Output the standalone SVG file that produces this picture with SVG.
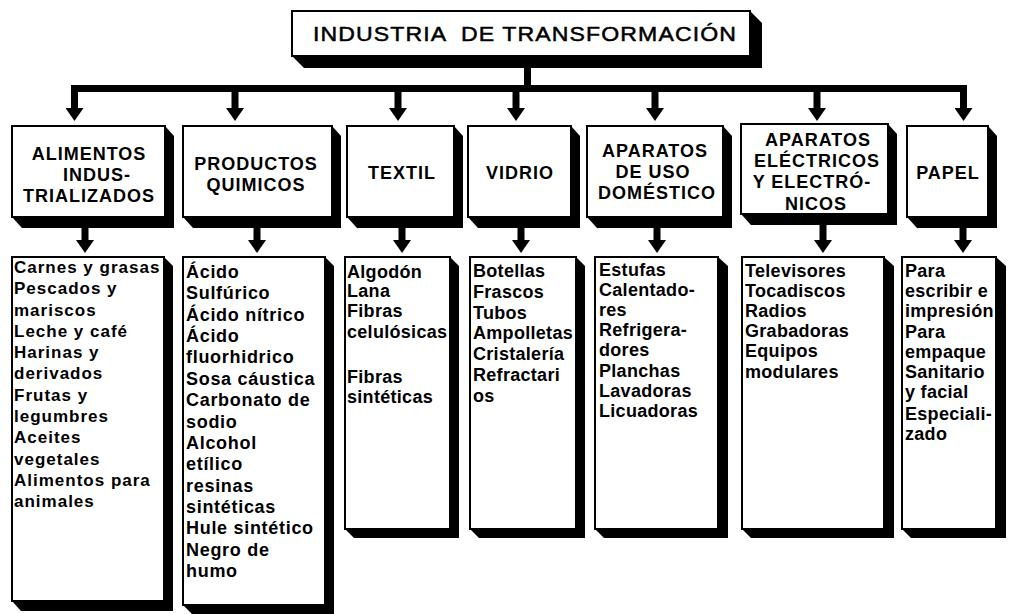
<svg xmlns="http://www.w3.org/2000/svg" width="1011" height="614" viewBox="0 0 1011 614">
<style>
.box{fill:#fff;stroke:#000;stroke-width:2}
.sh{fill:#000}
.title{font-family:"Liberation Sans",Arial,sans-serif;font-size:21px;letter-spacing:1px;fill:#000;stroke:#000;stroke-width:0.5}
.hd{font-family:"Liberation Sans",Arial,sans-serif;font-size:18px;font-weight:bold;letter-spacing:1px;fill:#000;text-anchor:middle}
.li{font-family:"Liberation Sans",Arial,sans-serif;font-size:18px;font-weight:bold;letter-spacing:0.3px;fill:#000}
.li2{font-family:"Liberation Sans",Arial,sans-serif;font-size:18px;font-weight:bold;letter-spacing:0.7px;fill:#000}
.li1{font-family:"Liberation Sans",Arial,sans-serif;font-size:17px;font-weight:bold;letter-spacing:1px;fill:#000}
.cn{stroke:#000;stroke-width:7;fill:none;marker-end:url(#ah)}
</style>
<defs>
<marker id="ah" markerWidth="13" markerHeight="18" refX="0" refY="9" orient="auto" markerUnits="userSpaceOnUse">
<path d="M0,0 L13,9 L0,18 Z" fill="#000"/>
</marker>
</defs>
<rect width="1011" height="614" fill="#fff"/>

<g id="connectors">
<rect x="524" y="64" width="7" height="24" fill="#000"/>
<rect x="71" y="85" width="896" height="7" fill="#000"/>
<line class="cn" x1="74.5" y1="88" x2="74.5" y2="108"/>
<line class="cn" x1="235" y1="88" x2="235" y2="108"/>
<line class="cn" x1="398" y1="88" x2="398" y2="108"/>
<line class="cn" x1="516" y1="88" x2="516" y2="108"/>
<line class="cn" x1="655" y1="88" x2="655" y2="108"/>
<line class="cn" x1="817" y1="88" x2="817" y2="108"/>
<line class="cn" x1="963.5" y1="88" x2="963.5" y2="108"/>
<line class="cn" x1="85" y1="225" x2="85" y2="240"/>
<line class="cn" x1="257" y1="225" x2="257" y2="240"/>
<line class="cn" x1="402" y1="225" x2="402" y2="240"/>
<line class="cn" x1="521" y1="225" x2="521" y2="240"/>
<line class="cn" x1="657" y1="225" x2="657" y2="240"/>
<line class="cn" x1="823" y1="222" x2="823" y2="240"/>
<line class="cn" x1="963" y1="225" x2="963" y2="240"/>
</g>

<g id="title">
<polygon class="sh" points="292,56 750,11 762,23 762,68 304,68"/>
<rect class="box" x="292" y="11" width="458" height="45"/>
<text class="title" x="313" y="41" textLength="424" lengthAdjust="spacingAndGlyphs" xml:space="preserve">INDUSTRIA  DE TRANSFORMACIÓN</text>
</g>

<g id="h-alimentos">
<polygon class="sh" points="12,217 165,126 174,136 174,228 22,228"/>
<rect class="box" x="12" y="126" width="153" height="91"/>
<text class="hd" x="89" y="160">ALIMENTOS</text>
<text class="hd" x="97" y="181">INDUS-</text>
<text class="hd" x="89" y="202">TRIALIZADOS</text>
</g>
<g id="h-productos">
<polygon class="sh" points="183,217 332,126 341,136 341,228 193,228"/>
<rect class="box" x="183" y="126" width="149" height="91"/>
<text class="hd" x="256" y="170">PRODUCTOS</text>
<text class="hd" x="256" y="191">QUIMICOS</text>
</g>
<g id="h-textil">
<polygon class="sh" points="347,217 454,126 463,136 463,228 357,228"/>
<rect class="box" x="347" y="126" width="107" height="91"/>
<text class="hd" x="402" y="179">TEXTIL</text>
</g>
<g id="h-vidrio">
<polygon class="sh" points="468,217 571,126 580,136 580,228 478,228"/>
<rect class="box" x="468" y="126" width="103" height="91"/>
<text class="hd" x="520" y="179">VIDRIO</text>
</g>
<g id="h-domestico">
<polygon class="sh" points="587,217 723,126 732,136 732,228 597,228"/>
<rect class="box" x="587" y="126" width="136" height="91"/>
<text class="hd" x="655" y="157">APARATOS</text>
<text class="hd" x="653" y="178">DE USO</text>
<text class="hd" x="657" y="199">DOMÉSTICO</text>
</g>
<g id="h-electricos">
<polygon class="sh" points="741,214 888,124 897,134 897,225 751,225"/>
<rect class="box" x="741" y="124" width="147" height="90"/>
<text class="hd" x="818" y="146">APARATOS</text>
<text class="hd" x="817" y="167">ELÉCTRICOS</text>
<text class="hd" x="812" y="188">Y ELECTRÓ-</text>
<text class="hd" x="816" y="210">NICOS</text>
</g>
<g id="h-papel">
<polygon class="sh" points="907,217 988,126 997,136 997,228 917,228"/>
<rect class="box" x="907" y="126" width="81" height="91"/>
<text class="hd" x="948" y="179">PAPEL</text>
</g>

<g id="l-alimentos">
<polygon class="sh" points="12,601 164,257 173,266 173,611 21,611"/>
<rect class="box" x="12" y="257" width="152" height="344"/>
<text class="li1" x="14" y="273">Carnes y grasas</text>
<text class="li1" x="14" y="294">Pescados y</text>
<text class="li1" x="14" y="316">mariscos</text>
<text class="li1" x="14" y="337">Leche y café</text>
<text class="li1" x="14" y="358">Harinas y</text>
<text class="li1" x="14" y="379">derivados</text>
<text class="li1" x="14" y="401">Frutas y</text>
<text class="li1" x="14" y="422">legumbres</text>
<text class="li1" x="14" y="443">Aceites</text>
<text class="li1" x="14" y="465">vegetales</text>
<text class="li1" x="14" y="486">Alimentos para</text>
<text class="li1" x="14" y="507">animales</text>
</g>
<g id="l-productos">
<polygon class="sh" points="183,605 325,257 334,266 334,614 192,614"/>
<rect class="box" x="183" y="257" width="142" height="348"/>
<text class="li2" x="186" y="278">Ácido</text>
<text class="li2" x="186" y="299">Sulfúrico</text>
<text class="li2" x="186" y="321">Ácido nítrico</text>
<text class="li2" x="186" y="342">Ácido</text>
<text class="li2" x="186" y="363">fluorhidrico</text>
<text class="li2" x="186" y="385">Sosa cáustica</text>
<text class="li2" x="186" y="406">Carbonato de</text>
<text class="li2" x="186" y="428">sodio</text>
<text class="li2" x="186" y="449">Alcohol</text>
<text class="li2" x="186" y="470">etílico</text>
<text class="li2" x="186" y="492">resinas</text>
<text class="li2" x="186" y="513">sintéticas</text>
<text class="li2" x="186" y="534">Hule sintético</text>
<text class="li2" x="186" y="556">Negro de</text>
<text class="li2" x="186" y="577">humo</text>
</g>
<g id="l-textil">
<polygon class="sh" points="345,529 450,257 459,266 459,538 354,538"/>
<rect class="box" x="345" y="257" width="105" height="272"/>
<text class="li" x="347" y="278">Algodón</text>
<text class="li" x="347" y="297">Lana</text>
<text class="li" x="347" y="317">Fibras</text>
<text class="li" x="347" y="338">celulósicas</text>
<text class="li" x="347" y="383">Fibras</text>
<text class="li" x="347" y="403">sintéticas</text>
</g>
<g id="l-vidrio">
<polygon class="sh" points="470,529 576,257 585,266 585,538 479,538"/>
<rect class="box" x="470" y="257" width="106" height="272"/>
<text class="li" x="473" y="277">Botellas</text>
<text class="li" x="473" y="298">Frascos</text>
<text class="li" x="473" y="319">Tubos</text>
<text class="li" x="473" y="339">Ampolletas</text>
<text class="li" x="473" y="360">Cristalería</text>
<text class="li" x="473" y="381">Refractari</text>
<text class="li" x="473" y="402">os</text>
</g>
<g id="l-domestico">
<polygon class="sh" points="595,529 718,257 728,266 728,538 604,538"/>
<rect class="box" x="595" y="257" width="123" height="272"/>
<text class="li" x="599" y="276">Estufas</text>
<text class="li" x="599" y="296">Calentado-</text>
<text class="li" x="599" y="316">res</text>
<text class="li" x="599" y="336">Refrigera-</text>
<text class="li" x="599" y="356">dores</text>
<text class="li" x="599" y="377">Planchas</text>
<text class="li" x="599" y="397">Lavadoras</text>
<text class="li" x="599" y="417">Licuadoras</text>
</g>
<g id="l-electricos">
<polygon class="sh" points="742,529 884,257 894,266 894,538 751,538"/>
<rect class="box" x="742" y="257" width="142" height="272"/>
<text class="li" x="745" y="277">Televisores</text>
<text class="li" x="745" y="297">Tocadiscos</text>
<text class="li" x="745" y="317">Radios</text>
<text class="li" x="745" y="337">Grabadoras</text>
<text class="li" x="745" y="357">Equipos</text>
<text class="li" x="745" y="378">modulares</text>
</g>
<g id="l-papel">
<polygon class="sh" points="902,529 996,257 1006,266 1006,538 911,538"/>
<rect class="box" x="902" y="257" width="94" height="272"/>
<text class="li" x="905" y="277">Para</text>
<text class="li" x="905" y="297">escribir e</text>
<text class="li" x="905" y="317">impresión</text>
<text class="li" x="905" y="338">Para</text>
<text class="li" x="905" y="358">empaque</text>
<text class="li" x="905" y="378">Sanitario</text>
<text class="li" x="905" y="398">y facial</text>
<text class="li" x="905" y="420">Especiali-</text>
<text class="li" x="905" y="440">zado</text>
</g>
</svg>
